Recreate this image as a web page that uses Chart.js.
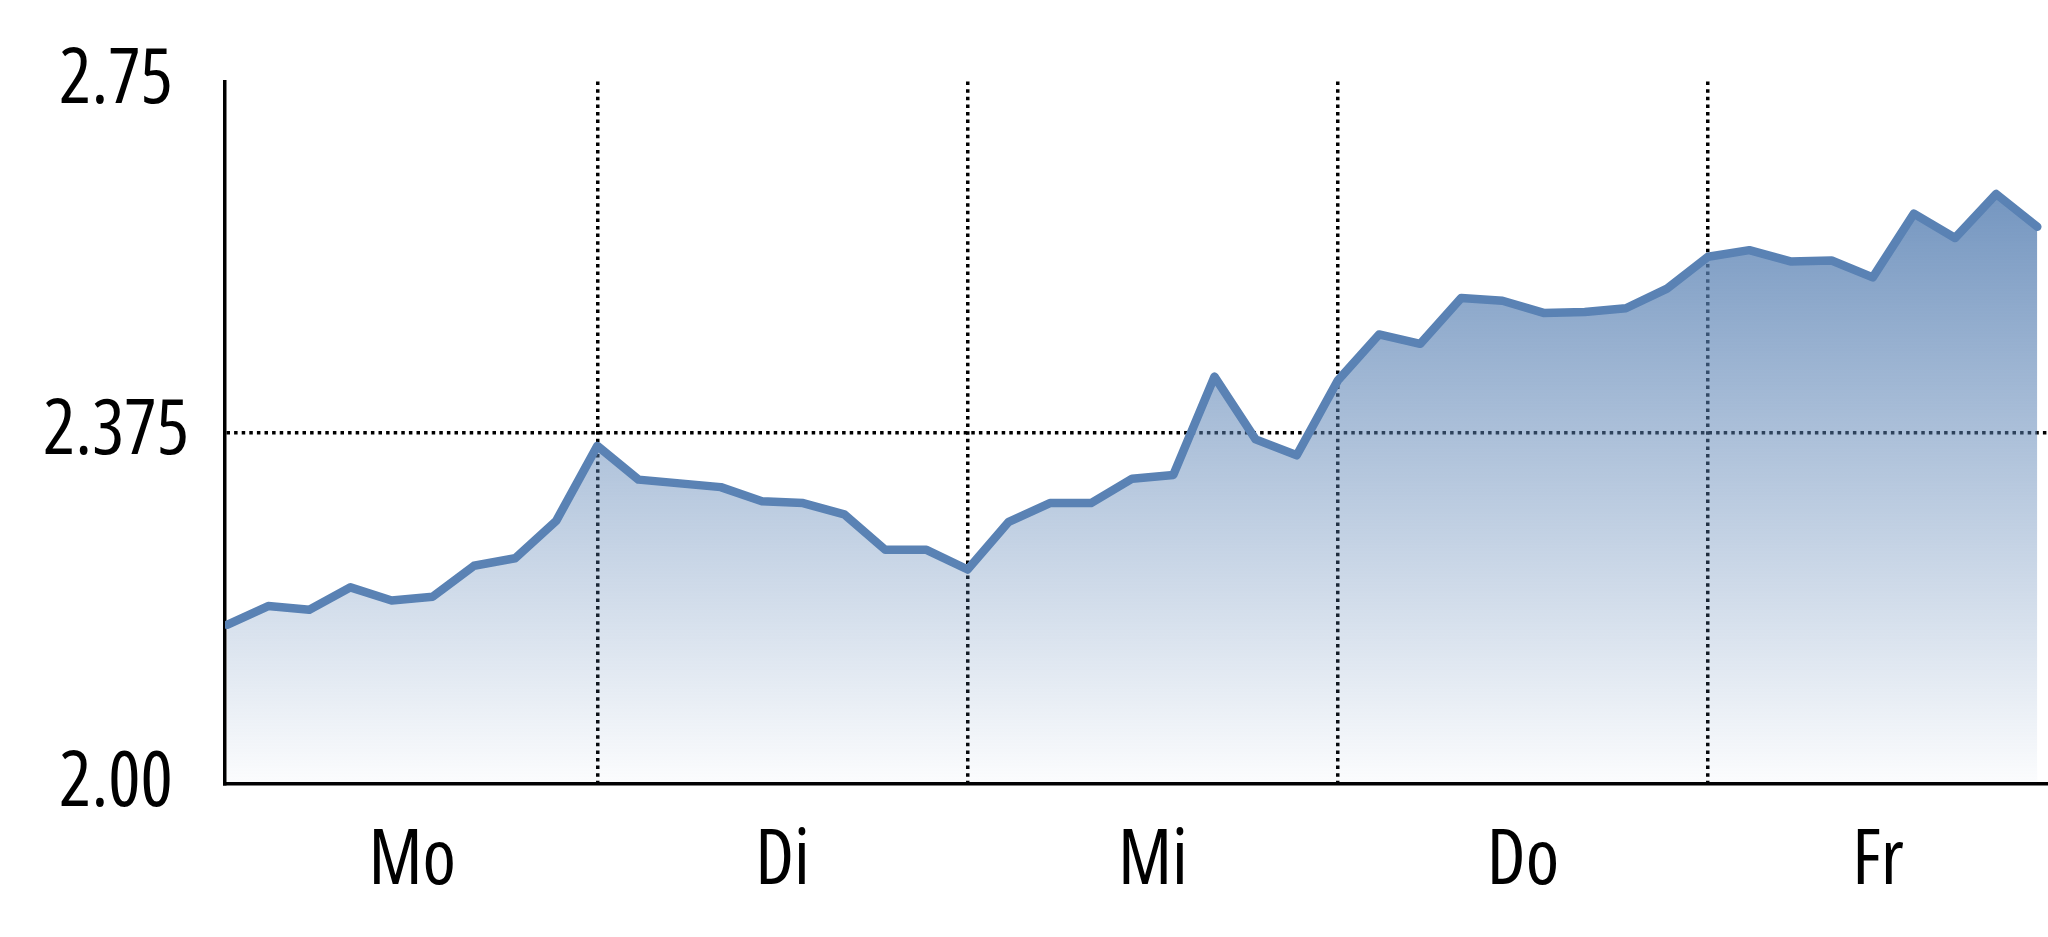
<!DOCTYPE html>
<html>
<head>
<meta charset="utf-8">
<script src="https://cdn.jsdelivr.net/npm/chart.js@4"></script>
<style>
  html, body { margin: 0; padding: 0; background: #fff; overflow: hidden; }
  #wrap { width: 2048px; height: 937px; position: relative; }
</style>
</head>
<body>
<div id="wrap"><canvas id="chart"></canvas></div>
<script>
// days on the x axis, 9 readings per day
const days = ['Mo', 'Di', 'Mi', 'Do', 'Fr'];
const pointsPerDay = 9;

// readings, in order
const yieldValues = [
  2.170, 2.190, 2.186, 2.210, 2.196, 2.200, 2.233, 2.241, 2.281,
  2.361, 2.325, 2.321, 2.317, 2.302, 2.300, 2.288, 2.250, 2.250,
  2.229, 2.280, 2.300, 2.300, 2.326, 2.330, 2.435, 2.368, 2.351,
  2.431, 2.480, 2.470, 2.519, 2.516, 2.503, 2.504, 2.508, 2.529,
  2.563, 2.570, 2.558, 2.559, 2.541, 2.609, 2.583, 2.630, 2.595
];

// y axis ticks
const yTicks = [2.0, 2.375, 2.75];
const yTickLabels = ['2.00', '2.375', '2.75'];

const LINE = 'rgb(90,130,180)';

// narrow font: condensed Open Sans if the browser picks it up, else Roboto Condensed
const probe = document.createElement('canvas').getContext('2d');
probe.font = "76px 'Open Sans'";
const wideW = probe.measureText('2.375').width;
probe.font = "condensed 76px 'Open Sans'";
const narrowW = probe.measureText('2.375').width;
const tickFont = narrowW < wideW * 0.9
  ? { family: "'Open Sans'", weight: 'condensed', size: 76 }
  : { family: "'Roboto Condensed', 'DejaVu Sans Condensed', sans-serif", size: 68 };

// x range: the last day is cut off at the right edge
const xMin = -0.05;
const xMax = 44.26;

// day boundaries (dotted lines) and day centres (labels)
const dayBounds = days.map((d, i) => i * pointsPerDay).filter(v => v > 0);
const dayCenters = days.map((d, i) => (i * pointsPerDay + Math.min((i + 1) * pointsPerDay, xMax)) / 2);

const points = yieldValues.map((v, i) => ({ x: i, y: v }));

const ctx = document.getElementById('chart').getContext('2d');
new Chart(ctx, {
  type: 'line',
  data: {
    datasets: [{
      data: points,
      borderColor: LINE,
      borderWidth: 8.5,
      borderJoinStyle: 'round',
      borderCapStyle: 'round',
      pointRadius: 0,
      tension: 0,
      fill: 'start',
      backgroundColor: (c) => {
        const chart = c.chart;
        const area = chart.chartArea;
        if (!area) return 'rgba(90,130,180,0.4)';
        const top = chart.scales.y.getPixelForValue(Math.max(...yieldValues));
        const g = chart.ctx.createLinearGradient(0, top, 0, area.bottom);
        g.addColorStop(0, 'rgba(90,130,180,0.84)');
        g.addColorStop(1, 'rgba(90,130,180,0.02)');
        return g;
      }
    }]
  },
  options: {
    responsive: true,
    maintainAspectRatio: false,
    animation: false,
    layout: { padding: { top: 78, right: 0, bottom: 0, left: 0 } },
    plugins: {
      legend: { display: false },
      tooltip: { enabled: false }
    },
    scales: {
      x: {
        type: 'linear',
        min: xMin,
        max: xMax,
        z: 1,
        afterBuildTicks: (scale) => {
          scale.ticks = [...dayBounds, ...dayCenters].sort((a, b) => a - b).map(v => ({ value: v }));
        },
        afterFit: (scale) => { scale.height = 153; },
        grid: {
          drawTicks: false,
          lineWidth: 3.5,
          color: (c) => (c.tick && dayBounds.includes(c.tick.value)) ? '#000' : 'rgba(0,0,0,0)'
        },
        border: { display: true, color: '#000', width: 3.5, dash: [3.5, 4.1] },
        ticks: {
          autoSkip: false,
          maxRotation: 0,
          padding: 33,
          color: '#000',
          font: tickFont,
          callback: (value) => {
            const d = dayCenters.indexOf(value);
            return d >= 0 ? days[d] : '';
          }
        }
      },
      y: {
        min: 2.0,
        max: 2.75,
        z: 1,
        afterBuildTicks: (scale) => {
          scale.ticks = yTicks.map(v => ({ value: v }));
        },
        afterFit: (scale) => { scale.width = 225; },
        grid: {
          drawTicks: false,
          lineWidth: 3.5,
          color: (c) => (c.tick && c.tick.value === 2.375) ? '#000' : 'rgba(0,0,0,0)'
        },
        border: { display: true, color: '#000', width: 3.5, dash: [3.5, 4.1] },
        ticks: {
          crossAlign: 'center',
          padding: 36,
          color: '#000',
          font: tickFont,
          callback: (value, index) => yTickLabels[index]
        }
      }
    }
  }
});
</script>
</body>
</html>
